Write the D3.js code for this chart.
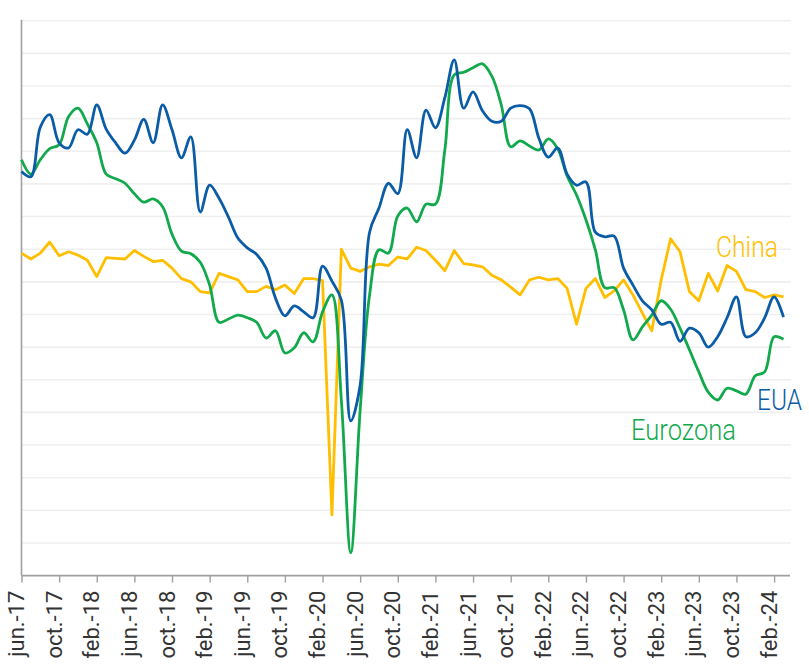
<!DOCTYPE html>
<html>
<head>
<meta charset="utf-8">
<script src="https://cdn.jsdelivr.net/npm/d3@7"></script>
<style>
  body { margin: 0; background: #fff; }
  text { font-family: Roboto, "Noto Sans", sans-serif; }
</style>
</head>
<body>
<div id="chart-area"></div>
<script>
/*
*    chart.js
*/

// month names used to build the category list
var monthNames = ["ene.", "feb.", "mar.", "abr.", "may.", "jun.", "jul.", "ago.", "sep.", "oct.", "nov.", "dic."];

// categories: jun.-17 .. mar.-24
var months = [];
for (var k = 0; k < 82; k++) {
    var m = (5 + k) % 12;
    var yr = 17 + Math.floor((5 + k) / 12);
    months.push(monthNames[m] + "-" + yr);
}

// values (index units)
var eua = [61.9, 61.1, 68.7, 70.6, 66.3, 65.5, 68.3, 67.6, 72.1, 68.4,
           66.3, 64.7, 66.7, 69.9, 66.3, 72.1, 68.3, 64.0, 67.2, 55.7,
           59.8, 57.8, 54.9, 51.7, 50.2, 49.2, 47.1, 42.5, 39.8, 41.3,
           40.4, 39.5, 47.4, 45.1, 42.2, 23.7, 29.2, 52.6, 56.3, 60.1,
           58.5, 68.3, 64.0, 71.3, 68.6, 73.2, 79.0, 71.6, 74.1, 71.2,
           69.6, 69.6, 71.6, 72.0, 71.5, 67.0, 64.1, 65.5, 61.5, 59.8,
           60.3, 52.6, 51.9, 52.0, 47.1, 44.5, 42.1, 40.7, 38.5, 38.8,
           35.9, 37.9, 37.2, 35.0, 36.6, 39.5, 42.7, 36.6, 37.2, 39.5,
           42.7, 39.6];

var eurozona = [63.7, 61.5, 63.7, 65.4, 66.0, 70.3, 71.6, 69.2, 66.3, 61.5,
                60.8, 60.1, 58.5, 57.2, 57.7, 56.5, 52.3, 49.7, 49.3, 48.0,
                44.5, 38.8, 39.3, 39.9, 39.5, 38.8, 36.4, 37.5, 34.1, 34.9,
                37.2, 35.8, 40.4, 43.0, 26.9, 3.5, 25.4, 43.0, 49.9, 49.4,
                55.1, 56.3, 54.2, 56.9, 56.9, 65.2, 76.7, 77.1, 77.8, 78.4,
                76.5, 72.1, 65.7, 66.6, 65.8, 65.2, 66.9, 65.4, 61.2, 58.3,
                54.5, 49.9, 44.1, 44.1, 40.7, 36.1, 38.1, 39.9, 42.1, 40.8,
                37.9, 34.6, 31.2, 28.1, 26.9, 28.7, 28.3, 27.8, 30.6, 31.2,
                36.6, 36.2];

var china = [49.4, 48.5, 49.4, 51.1, 49.0, 49.6, 49.1, 48.3, 45.8, 48.7,
             48.6, 48.5, 49.8, 48.9, 48.1, 48.3, 47.1, 45.5, 45.0, 43.5,
             43.3, 46.3, 45.8, 45.3, 43.5, 43.5, 44.3, 43.8, 44.5, 43.2,
             45.5, 45.5, 45.2, 9.3, 50.0, 47.1, 46.6, 47.3, 47.7, 47.5,
             48.8, 48.5, 50.3, 49.8, 48.3, 46.7, 49.8, 47.8, 47.6, 47.3,
             46.0, 45.3, 44.2, 43.0, 45.3, 45.7, 45.3, 45.5, 44.0, 38.5,
             44.0, 45.5, 42.6, 43.6, 45.3, 43.0, 40.2, 37.5, 45.3, 51.6,
             49.6, 43.5, 42.1, 46.3, 43.6, 47.5, 46.6, 43.8, 43.5, 42.6,
             43.0, 42.7];

var yTicks = [5, 10, 15, 20, 25, 30, 35, 40, 45, 50, 55, 60, 65, 70, 75, 80, 85];

var width = 809;
var height = 665;
var plotLeft = 21.5;
var plotRight = 783.5;
var plotTop = 20.7;
var plotBottom = 575.6;

var svg = d3.select("#chart-area")
.append("svg")
.attr("width", width)
.attr("height", height);

var x = d3.scalePoint().domain(months).range([plotLeft, plotRight]);
var y = d3.scaleLinear().domain([0, 85]).range([plotBottom, plotTop]);

// gridlines
svg.append("g")
.selectAll("line")
.data(yTicks)
.enter()
.append("line")
.attr("x1", plotLeft)
.attr("x2", 791)
.attr("y1", (d) => y(d))
.attr("y2", (d) => y(d))
.attr("stroke", "#efefef")
.attr("stroke-width", 1.6);

// left axis line
svg.append("line")
.attr("x1", plotLeft)
.attr("x2", plotLeft)
.attr("y1", plotTop - 1)
.attr("y2", plotBottom)
.attr("stroke", "#a0a0a0")
.attr("stroke-width", 1.6);

// bottom axis
var xAxisCall = d3.axisBottom(x)
.tickValues(months.filter((d, i) => i % 4 === 0))
.tickSize(7)
.tickSizeOuter(0);

var xAxisGroup = svg.append("g")
.attr("transform", "translate(0, " + plotBottom + ")")
.call(xAxisCall);

xAxisGroup.select(".domain").remove();
xAxisGroup.selectAll(".tick line")
.attr("stroke", "#a0a0a0")
.attr("stroke-width", 1.4);

xAxisGroup.selectAll("text")
.attr("font-family", "Roboto")
.attr("font-weight", 400)
.attr("font-size", "22px")
.attr("fill", "#333")
.attr("text-anchor", "end")
.attr("dy", "0")
.attr("y", 0)
.attr("x", 0)
.attr("transform", "translate(2, 15) rotate(-90)");

xAxisGroup.append("line")
.attr("x1", plotLeft)
.attr("x2", 790)
.attr("y1", 0)
.attr("y2", 0)
.attr("stroke", "#a0a0a0")
.attr("stroke-width", 1.6);

// lines
var smooth = d3.line()
.x((d, i) => x(months[i]))
.y((d) => y(d))
.curve(d3.curveCatmullRom.alpha(0.5));

var straight = d3.line()
.x((d, i) => x(months[i]))
.y((d) => y(d));

svg.append("path")
.attr("d", straight(china))
.attr("fill", "none")
.attr("stroke", "#ffbf00")
.attr("stroke-width", 2.8)
.attr("stroke-linejoin", "round");

svg.append("path")
.attr("d", smooth(eurozona))
.attr("fill", "none")
.attr("stroke", "#12a94d")
.attr("stroke-width", 2.8);

svg.append("path")
.attr("d", smooth(eua))
.attr("fill", "none")
.attr("stroke", "#0b5ca6")
.attr("stroke-width", 2.8);

// series labels
var labels = [
    {name: "China", color: "#ffbf00", x: 716, y: 257, len: 62},
    {name: "EUA", color: "#0b5ca6", x: 757, y: 410, len: 45},
    {name: "Eurozona", color: "#12a94d", x: 631, y: 440, len: 105}
];

svg.selectAll(".series-label")
.data(labels)
.enter()
.append("text")
.attr("class", "series-label")
.attr("x", (d) => d.x)
.attr("y", (d) => d.y)
.attr("font-size", "30px")
.attr("font-weight", 300)
.attr("fill", (d) => d.color)
.attr("textLength", (d) => d.len)
.attr("lengthAdjust", "spacingAndGlyphs")
.text((d) => d.name);
</script>
</body>
</html>
